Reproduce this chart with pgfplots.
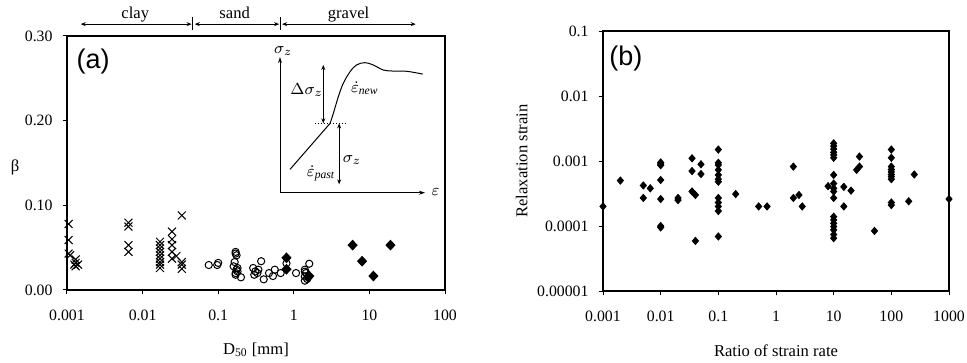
\documentclass[border=0pt]{standalone}
\usepackage{fontspec}
\setmainfont{Liberation Serif}
\newfontfamily\arialfont{Liberation Sans}
\usepackage{pgfplots}
\usepackage{pgfplotstable}
\pgfplotsset{compat=1.18}
\usetikzlibrary{arrows.meta}

\pgfplotstableread{
x y
0.00105 0.078
0.00105 0.059
0.00105 0.043
0.0011 0.041
0.0013 0.036
0.0013 0.032
0.0013 0.028
0.00125 0.030
0.0014 0.030
0.0065 0.0795
0.0065 0.075
0.0065 0.053
0.0065 0.045
0.017 0.057
0.017 0.053
0.017 0.049
0.017 0.045
0.017 0.041
0.017 0.037
0.017 0.033
0.017 0.030
0.017 0.026
0.0245 0.069
0.0245 0.060
0.0245 0.053
0.0245 0.045
0.0245 0.037
0.028 0.040
0.033 0.088
0.033 0.033
0.033 0.030
0.033 0.025
}\claytab

\pgfplotstableread{
x y
0.075 0.0295
0.097 0.0295
0.1 0.032
0.17 0.045
0.17 0.043
0.175 0.041
0.165 0.033
0.16 0.028
0.175 0.024
0.17 0.020
0.18 0.026
0.2 0.015
0.17 0.018
0.18 0.022
0.37 0.034
0.29 0.026
0.31 0.022
0.33 0.020
0.34 0.024
0.3 0.018
0.4 0.0126
0.47 0.020
0.53 0.0165
0.56 0.024
0.67 0.020
0.8 0.0315
1.07 0.020
1.6 0.031
1.4 0.024
1.4 0.0216
1.45 0.020
1.4 0.016
1.4 0.011
1.5 0.013
}\sandtab

\pgfplotstableread{
x y
0.8 0.038
0.8 0.0245
1.6 0.0165
1.55 0.015
6.0 0.053
8.0 0.034
11.3 0.0165
19 0.053
}\graveltab

\pgfplotstableread{
x y
0.001 2.0e-4
0.002 5.0e-4
0.005 4.2e-4
0.005 2.7e-4
0.0066 3.8e-4
0.01 9.5e-4
0.01 9.0e-4
0.01 8.6e-4
0.01 5.1e-4
0.01 2.6e-4
0.01 1.0e-4
0.01 9.5e-5
0.02 2.7e-4
0.02 2.5e-4
0.035 1.1e-3
0.035 7.0e-4
0.035 3.4e-4
0.04 3.0e-4
0.05 8.9e-4
0.05 6.3e-4
0.04 5.9e-5
0.1 1.5e-3
0.1 9.4e-4
0.1 8.7e-4
0.1 7.3e-4
0.1 6.1e-4
0.1 5.25e-4
0.1 4.8e-4
0.1 2.7e-4
0.1 2.3e-4
0.1 2.0e-4
0.1 1.7e-4
0.1 6.9e-5
0.2 3.1e-4
0.5 2.0e-4
0.7 2.0e-4
2 8.2e-4
2 2.7e-4
2.5 3.0e-4
2.85 2.0e-4
10 1.87e-3
10 1.7e-3
10 1.53e-3
10 1.36e-3
10 1.24e-3
10 1.12e-3
10 6.1e-4
8 4.1e-4
10 4.5e-4
10 3.8e-4
10 3.4e-4
10 2.7e-4
15 4.0e-4
20 3.5e-4
15 2.0e-4
10 1.39e-4
10 1.24e-4
10 1.1e-4
10 9.8e-5
10 8.7e-5
10 7.4e-5
10 6.5e-5
28 1.17e-3
25 7.3e-4
28 8.2e-4
51 8.4e-5
100 1.5e-3
100 1.12e-3
100 8.2e-4
100 7.4e-4
100 6.8e-4
100 6.2e-4
100 5.75e-4
100 5.25e-4
100 2.3e-4
100 2.1e-4
200 2.4e-4
250 6.2e-4
1000 2.6e-4
}\relaxtab

\pgfplotsset{
  every axis/.append style={
    font=\fontsize{8.3}{10}\selectfont,
    scale only axis,
    anchor=south west,
    axis line style={line width=0.6pt},
    tick align=outside, tick pos=left,
    major tick length=2.2pt,
    every tick/.style={black, line width=0.5pt},
    xminorticks=false, yminorticks=false,
    /pgf/number format/assume math mode=true,
    clip=false,
    tick label style={font=\fontsize{7.9}{9.5}\selectfont},
    xticklabel style={yshift=-4.3pt},
    yticklabel style={xshift=-1.5pt},
  },
}

\begin{document}
\begin{tikzpicture}
\path[use as bounding box] (0,0) rectangle (483.5pt,181.5pt);

% ---------- (a) ----------
\begin{axis}[
  at={(33.5pt,36.5pt)}, width=189pt, height=127pt,
  xmode=log, xmin=0.001, xmax=100, ymin=0, ymax=0.3,
  xtick={0.001,0.01,0.1,1,10,100}, xticklabels={0.001,0.01,0.1,1,10,100},
  ytick={0,0.1,0.2,0.3}, yticklabels={0.00,0.10,0.20,0.30},
  xlabel={D\textsubscript{50} [mm]},
  xlabel style={at={(axis description cs:0.5,0)}, anchor=center, yshift=-30pt},
  ylabel={β},
  ylabel style={at={(axis description cs:0,0.5)}, anchor=center, rotate=-90, xshift=-26pt, yshift=-2pt},
]
\addplot[only marks, mark=x, mark size=2.8pt, mark options={line width=0.5pt}] table {\claytab};
\addplot[only marks, mark=o, mark size=1.8pt, mark options={line width=0.5pt, fill=white}] table {\sandtab};
\addplot[only marks, mark=diamond*, mark size=2.4pt, mark options={xscale=1.25}] table {\graveltab};

% soil class ranges
\draw[{Stealth[length=2.5pt,width=2pt]}-{Stealth[length=2.5pt,width=2pt]}, line width=0.4pt]
  (axis cs:0.00152,0.314) -- (axis cs:0.0445,0.314);
\draw[{Stealth[length=2.5pt,width=2pt]}-{Stealth[length=2.5pt,width=2pt]}, line width=0.4pt]
  (axis cs:0.049,0.314) -- (axis cs:0.64,0.314);
\draw[{Stealth[length=2.5pt,width=2pt]}-{Stealth[length=2.5pt,width=2pt]}, line width=0.4pt]
  (axis cs:0.70,0.314) -- (axis cs:41,0.314);
\draw[line width=0.5pt] (axis cs:0.046,0.3075) -- (axis cs:0.046,0.3225);
\draw[line width=0.5pt] (axis cs:0.67,0.3075) -- (axis cs:0.67,0.3225);
\node[anchor=base] at (axis cs:0.008,0.3205) {clay};
\node[anchor=base] at (axis cs:0.165,0.3205) {sand};
\node[anchor=base] at (axis cs:5.3,0.3205) {gravel};

\node[font=\arialfont\fontsize{13.5}{15}\selectfont] at (rel axis cs:0.069,0.90) {(a)};

% inset schematic
\draw[-{Stealth[length=3pt,width=2pt]}, line width=0.4pt]
  (rel axis cs:0.5635,0.383) -- (rel axis cs:0.5635,0.917);
\draw[-{Stealth[length=3pt,width=2pt]}, line width=0.4pt]
  (rel axis cs:0.5635,0.383) -- (rel axis cs:0.947,0.383);
\node at (rel axis cs:0.975,0.385) {$\varepsilon$};
\node at (rel axis cs:0.572,0.940) {$\sigma_z$};
\draw[line width=0.5pt] (rel axis cs:0.590,0.475) -- (rel axis cs:0.696,0.656);
\draw[line width=0.5pt] plot[smooth, tension=0.6] coordinates {
  (rel axis cs:0.696,0.656) (rel axis cs:0.7046,0.6955) (rel axis cs:0.7178,0.761)
  (rel axis cs:0.731,0.814) (rel axis cs:0.749,0.8596) (rel axis cs:0.766,0.886)
  (rel axis cs:0.788,0.895) (rel axis cs:0.810,0.886) (rel axis cs:0.837,0.866)
  (rel axis cs:0.863,0.862) (rel axis cs:0.899,0.861) (rel axis cs:0.941,0.850)};
\draw[densely dotted, line width=0.5pt] (rel axis cs:0.656,0.656) -- (rel axis cs:0.743,0.656);
\draw[{Stealth[length=2.5pt,width=2pt]}-{Stealth[length=2.5pt,width=2pt]}, line width=0.4pt]
  (rel axis cs:0.678,0.656) -- (rel axis cs:0.678,0.886);
\draw[{Stealth[length=2.5pt,width=2pt]}-{Stealth[length=2.5pt,width=2pt]}, line width=0.4pt]
  (rel axis cs:0.720,0.656) -- (rel axis cs:0.720,0.416);
\node at (rel axis cs:0.634,0.787) {$\Delta\sigma_z$};
\node at (rel axis cs:0.754,0.512) {$\sigma_z$};
\node at (rel axis cs:0.788,0.794) {$\dot{\varepsilon}_{\mathit{new}}$};
\node at (rel axis cs:0.672,0.460) {$\dot{\varepsilon}_{\mathit{past}}$};
\end{axis}

% ---------- (b) ----------
\begin{axis}[
  at={(301.5pt,36pt)}, width=173pt, height=130pt,
  xmode=log, ymode=log, xmin=0.001, xmax=1000, ymin=0.00001, ymax=0.1,
  xtick={0.001,0.01,0.1,1,10,100,1000}, xticklabels={0.001,0.01,0.1,1,10,100,1000},
  ytick={0.00001,0.0001,0.001,0.01,0.1}, yticklabels={0.00001,0.0001,0.001,0.01,0.1},
  xlabel={Ratio of strain rate},
  xlabel style={at={(axis description cs:0.5,0)}, anchor=center, yshift=-30pt},
  ylabel={Relaxation strain},
  ylabel style={at={(axis description cs:0,0.5)}, anchor=center, rotate=0, yshift=40.7pt},
]
\addplot[only marks, mark=diamond*, mark size=1.8pt, mark options={xscale=1.15}] table {\relaxtab};
\node[font=\arialfont\fontsize{13.5}{15}\selectfont] at (rel axis cs:0.066,0.896) {(b)};
\end{axis}
\end{tikzpicture}
\end{document}
